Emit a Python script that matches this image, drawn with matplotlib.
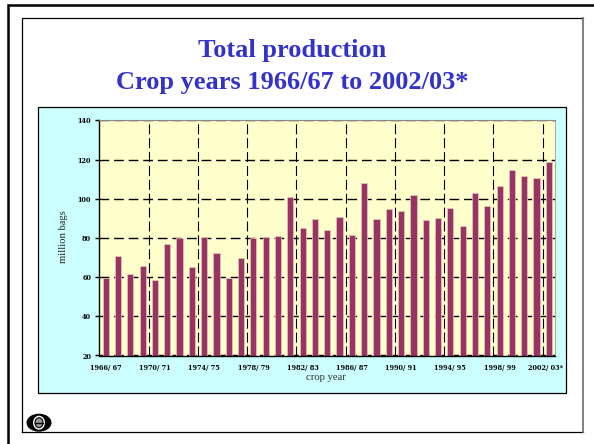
import matplotlib
matplotlib.use('Agg')
import matplotlib.pyplot as plt
from matplotlib.patches import Rectangle, Ellipse
from matplotlib.transforms import ScaledTranslation

values = [59.8, 70.6, 61.5, 65.6, 58.3, 76.9, 80, 65, 80.6, 72.4, 59.8, 69.7, 80, 80.6, 81,
          101, 85, 89.6, 84.2, 90.5, 81.4, 108.2, 89.6, 94.6, 93.7, 101.9, 89.1, 90.1, 95.4, 86,
          103, 96.4, 106.3, 114.8, 111.7, 110.4, 118.9]
tick_labels = ['1966/ 67', '1970/ 71', '1974/ 75', '1978/ 79', '1982/ 83', '1986/ 87',
               '1990/ 91', '1994/ 95', '1998/ 99', '2002/ 03*']
y_ticks = [20, 40, 60, 80, 100, 120, 140]

W, H = 594, 444
plt.rcParams['font.family'] = ['Liberation Serif', 'DejaVu Serif']
fig = plt.figure(figsize=(W/100, H/100), dpi=100, facecolor='white')

def fr(x0, y0, x1, y1):
    return [x0/W, 1-y1/H, (x1-x0)/W, (y1-y0)/H]

bg = fig.add_axes([0, 0, 1, 1], zorder=0)
bg.set_xlim(0, W); bg.set_ylim(H, 0); bg.axis('off')
bg.plot([7.5, 7.5, W], [H, 5.5, 5.5], color='black', lw=1.8, solid_joinstyle='miter')
bg.plot([21.5, 21.5, 583], [432, 18.5, 18.5], color='black', lw=0.9)
bg.plot([21.5, 583], [432, 432], color='black', lw=0.9)
bg.plot([583, 583], [18.5, 432], color='#777777', lw=1.3)
bg.add_patch(Rectangle((38.5, 108), 528, 286, fc='#555555', ec='none'))
bg.add_patch(Rectangle((37.5, 106.5), 528, 286.5, fc='#CCFFFF', ec='black', lw=0.9))
bg.add_patch(Ellipse((39, 422.7), 25, 18, fc='black', ec='none'))
bg.add_patch(Ellipse((39, 422.7), 12, 14, fc='white', ec='none'))
bg.add_patch(Ellipse((39, 422.7), 8, 10, fc='#999999', ec='black', lw=0.8))
bg.plot([35, 43], [422.7, 422.7], color='black', lw=1)

fig.text(292.5/W, 1-50.5/H, 'Total production', ha='center', va='center', color='#3333CC',
         fontsize=19, fontweight='bold')
fig.text(292/W, 1-83/H, 'Crop years 1966/67 to 2002/03*', ha='center', va='center',
         color='#3333CC', fontsize=19, fontweight='bold')

ax = fig.add_axes(fr(99.5, 120.5, 555, 355.5), zorder=1)
ax.set_facecolor('#FFFFCC')
x = list(range(len(values)))
ax.bar(x, values, width=0.5, bottom=0, color='#993366', edgecolor='#E6C8B8', linewidth=0.5, zorder=3)
ax.set_xlim(-0.5, len(values)-0.5)
ax.set_ylim(20, 140)
ax.set_yticks(y_ticks)
ax.set_xticks(range(0, len(values), 4))
ax.set_xticklabels(tick_labels)
ax.set_xticks([i - 0.5 for i in range(4, len(values), 4)], minor=True)
ax.tick_params(axis='y', length=3, width=1, pad=3)
ax.tick_params(axis='x', which='both', length=0, pad=6)
for lab in ax.get_xticklabels() + ax.get_yticklabels():
    lab.set_fontweight('bold')
    lab.set_fontfamily(['DejaVu Serif'])
    lab.set_fontsize(4.7)
ax.get_xticklabels()[-1].set_transform(
    ax.get_xticklabels()[-1].get_transform() + ScaledTranslation(-3/100, 0, fig.dpi_scale_trans))
ax.grid(True, axis='y', which='major', color='black', lw=1, dashes=(7, 3.5), zorder=2)
ax.grid(True, axis='x', which='minor', color='black', lw=0.8, dashes=(9, 3.5), zorder=2)
ax.grid(False, axis='x', which='major')
ax.spines['top'].set_color('#888888')
ax.spines['top'].set_linewidth(0.8)
ax.spines['right'].set_color('#aaaaaa')
ax.spines['right'].set_linewidth(0.8)
for s in ['left', 'bottom']:
    ax.spines[s].set_linewidth(1)
ax.spines['bottom'].set_zorder(4)
fig.text(326/W, 1-377/H, 'crop year', ha='center', va='center', fontsize=7.7, color='#333333')
fig.text(63.5/W, 1-237/H, 'million bags', ha='center', va='center', rotation=90, fontsize=7.6, color='#222222')
fig.savefig('out.png', dpi=100)
